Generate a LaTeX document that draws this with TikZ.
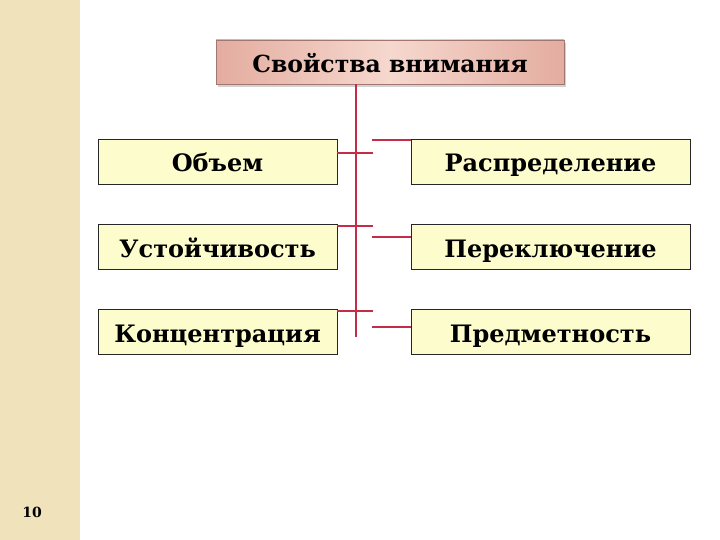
\documentclass[tikz,border=0pt]{standalone}
\usepackage{fontspec}
\setmainfont{DejaVu Serif}
\usetikzlibrary{shadows}
\definecolor{strip}{RGB}{240,226,186}
\definecolor{titleedge}{RGB}{228,172,160}
\definecolor{titlemid}{RGB}{246,216,206}
\definecolor{boxfill}{RGB}{253,252,204}
\definecolor{linkred}{RGB}{196,44,72}
\tikzset{
  titlebox/.style={draw=titleedge!70!black, line width=0.6pt, left color=titleedge, right color=titleedge, middle color=titlemid, minimum width=348pt, minimum height=44pt, inner sep=0pt, text height=26pt, text depth=4pt, font=\bfseries\fontsize{23.5}{26}\selectfont, drop shadow={opacity=0.35, shadow xshift=2pt, shadow yshift=-3pt}},
  itembox/.style={draw=black!85, line width=0.8pt, fill=boxfill, minimum height=45pt, inner sep=0pt, text height=25pt, text depth=5pt, font=\bfseries\fontsize{24}{26}\selectfont},
  leftbox/.style={itembox, minimum width=239pt},
  rightbox/.style={itembox, minimum width=279pt},
  link/.style={draw=linkred, line width=1.4pt}
}
\begin{document}
\begin{tikzpicture}[x=1pt,y=-1pt]
\useasboundingbox (0,0) rectangle (720,540);
\fill[white] (0,0) rectangle (720,540);
\fill[strip] (0,0) rectangle (80,540);
\node[font=\bfseries\fontsize{14}{15}\selectfont] (pg) at (32,512) {10};

\node[titlebox] (title) at (390,62) {Свойства внимания};

\node[leftbox] (l1) at (217.5,162) {Объем};
\node[leftbox] (l2) at (217.5,247) {Устойчивость};
\node[leftbox] (l3) at (217.5,332) {Концентрация};
\node[rightbox] (r1) at (550.5,162) {Распределение};
\node[rightbox] (r2) at (550.5,247) {Переключение};
\node[rightbox] (r3) at (550.5,332) {Предметность};

\coordinate (vend) at (356,337);
\draw[link] (title.south -| vend) -- (vend);

\coordinate (a1) at (373,153);
\coordinate (a2) at (373,226);
\coordinate (a3) at (373,311);
\draw[link] (l1.east |- a1) -- (a1);
\draw[link] (l2.east |- a2) -- (a2);
\draw[link] (l3.east |- a3) -- (a3);

\coordinate (b1) at (372,140);
\coordinate (b2) at (372,237);
\coordinate (b3) at (372,327);
\draw[link] (b1) -- (r1.west |- b1);
\draw[link] (b2) -- (r2.west |- b2);
\draw[link] (b3) -- (r3.west |- b3);
\end{tikzpicture}
\end{document}
